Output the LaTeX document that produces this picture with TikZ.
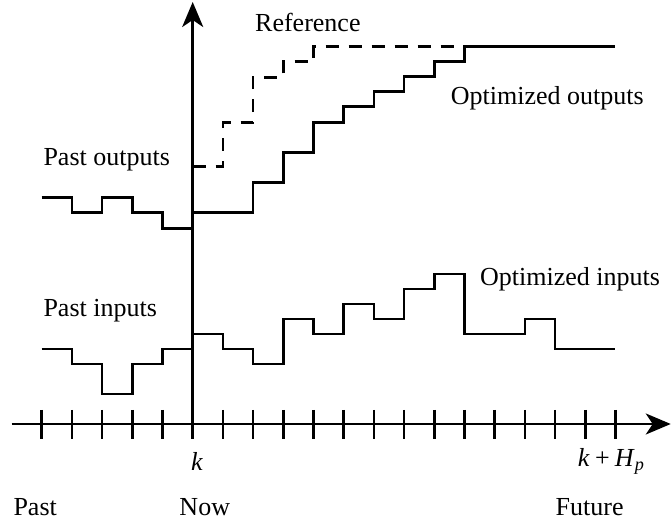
\documentclass[tikz,border=0pt]{standalone}
\usepackage{fontspec}
\setmainfont{Liberation Serif}
\usetikzlibrary{arrows.meta}
\begin{document}
% one x unit = one sampling interval, y measured downwards in pt
\begin{tikzpicture}[x=30.2pt, y=-1pt,
  curve/.style={line width=2.6pt},
  refcurve/.style={line width=2.6pt, dash pattern=on 13pt off 10pt},
  axis/.style={line width=2.6pt, -{Stealth[length=25pt,width=21pt,inset=7pt]}},
  tick/.style={line width=2.6pt},
  lbl/.style={inner sep=0pt, anchor=base west, font=\fontsize{26}{30}\selectfont}]
\useasboundingbox (-6.381,0) rectangle (15.838,525);

% axes
\coordinate (xstart) at (-6.0,424);
\coordinate (xend) at (15.83,424);
\coordinate (ystart) at (0,439);
\coordinate (yend) at (0,2);
\draw[axis] (xstart) -- (xend);
\draw[axis] (ystart) -- (yend);
\foreach \i in {-5,...,14} \draw[tick] (\i,410) -- (\i,439);

% reference trajectory
\draw[refcurve] (0,166.7) -| (1,122.7) -| (2,77.3) -| (3,61.7) -| (4,46.7) -- (14,46.7);

% past and optimized outputs
\draw[curve] (-5,197.3) -| (-4,212.3) -| (-3,197.3) -| (-2,212.3) -| (-1,228.3)
  -| (0,212.3) -| (2,182.7) -| (3,152.3) -| (4,122.3) -| (5,106.7) -| (6,91.7)
  -| (7,76.7) -| (8,61.7) -| (9,46.7) -- (14,46.7);

% past and optimized inputs
\draw[curve] (-5,349) -| (-4,364) -| (-3,394) -| (-2,364) -| (-1,349) -| (0,334)
  -| (1,349) -| (2,364) -| (3,319) -| (4,334) -| (5,304) -| (6,319) -| (7,289)
  -| (8,274) -| (9,334) -| (11,319) -| (12,349) -- (14,349);

% labels
\node[lbl] (reflbl) at (2.063,31.7) {Reference};
\node[lbl] (optout) at (8.543,105) {Optimized outputs};
\node[lbl] (pastout) at (-4.947,165.7) {Past outputs};
\node[lbl] (pastin) at (-4.947,316.7) {Past inputs};
\node[lbl] (optin) at (9.513,285.7) {Optimized inputs};
\node[lbl] (klbl) at (-0.056,471) {\textit{k}};
\node[lbl] (khp) at (12.748,466.7) {\textit{k}\hspace{0.2em}+\hspace{0.2em}\textit{H}\textsubscript{\textit{p}}};
\node[lbl] (past) at (-5.940,515.7) {Past};
\node[lbl] (now) at (-0.444,515.7) {Now};
\node[lbl] (future) at (12.013,515.7) {Future};
\end{tikzpicture}
\end{document}
